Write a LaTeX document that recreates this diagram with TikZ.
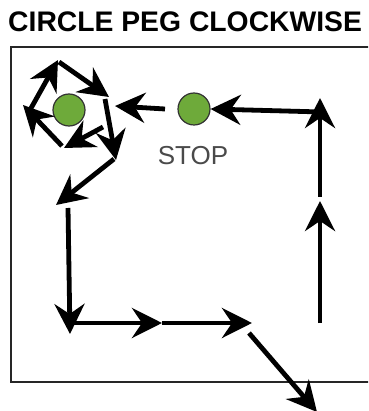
\documentclass[tikz,border=0pt]{standalone}
\usepackage{fontspec}
\setmainfont{Liberation Sans}
\usetikzlibrary{arrows.meta}
\definecolor{peggreen}{HTML}{6EAA3A}
\definecolor{stopgray}{HTML}{4A4A4A}
\tikzset{
  flowarrow/.style={line width=4.8pt, -{Stealth[length=30pt,width=30pt,inset=10pt]}},
  peg/.style={circle, draw=black!80, line width=1.2pt, fill=peggreen, minimum size=32pt, inner sep=0pt},
  frame/.style={draw=black!85, line width=2pt},
}
\begin{document}
\begin{tikzpicture}[x=1pt,y=-1pt]
\useasboundingbox (0,0) rectangle (368,411);
\clip (0,0) rectangle (368,411);
\node[anchor=base west, inner sep=0pt, font=\bfseries\fontsize{28.3}{30}\selectfont] (title) at (8,32) {CIRCLE PEG CLOCKWISE};
\draw[frame] (11,47) rectangle (390,382);
% circles
\node[peg] (pegc) at (69,110) {};
\node[peg] (stop) at (194,109) {};
\node[anchor=base, inner sep=0pt, text=stopgray, font=\fontsize{26}{28}\selectfont] (stoplbl) at (193,165) {STOP};
% coordinates
\coordinate (a1) at (103,127);
\coordinate (a2) at (64,148);
\coordinate (b1) at (62,146);
\coordinate (b2) at (23,105);
\coordinate (c1) at (30,110);
\coordinate (c2) at (58,60);
\coordinate (d1) at (59,62);
\coordinate (d2) at (109,97);
\coordinate (e1) at (105,99);
\coordinate (e2) at (116,160);
\coordinate (f1) at (114,159);
\coordinate (f2) at (56,205);
\coordinate (g1) at (68,208);
\coordinate (g2) at (70,334);
\coordinate (h1) at (70,323);
\coordinate (h2) at (162,323);
\coordinate (h3) at (252,323);
\coordinate (i1) at (249,333);
\coordinate (i2) at (317,412);
\coordinate (r0) at (320,323);
\coordinate (r1) at (320,201);
\coordinate (r2) at (320,98);
\coordinate (t1) at (322,112);
\coordinate (s1) at (165,109);
\coordinate (s2) at (115,106);
% loop around the peg
\draw[flowarrow] (a1) -- (a2);
\draw[flowarrow] (b1) -- (b2);
\draw[flowarrow] (c1) -- (c2);
\draw[flowarrow] (d1) -- (d2);
\draw[flowarrow] (e1) -- (e2);
\draw[flowarrow] (f1) -- (f2);
% exit path
\draw[flowarrow] (g1) -- (g2);
\draw[flowarrow] (h1) -- (h2);
\draw[flowarrow] (h2) -- (h3);
\draw[flowarrow] (i1) -- (i2);
% return path
\draw[flowarrow] (r0) -- (r1);
\draw[flowarrow] ([yshift=4pt]r1) -- (r2);
\draw[flowarrow] (t1) -- (stop.east);
\draw[flowarrow] (s1) -- (s2);
\end{tikzpicture}
\end{document}
